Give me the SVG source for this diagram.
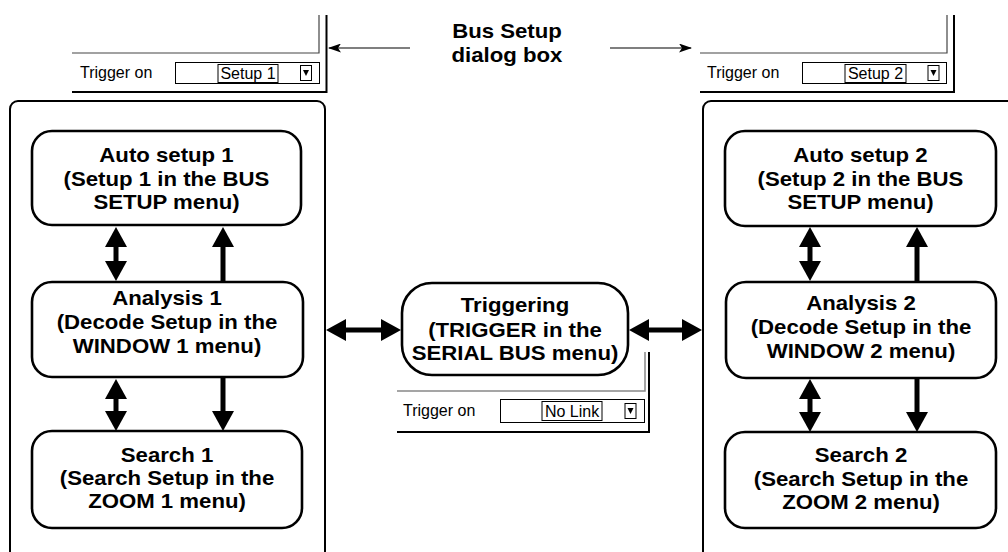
<svg xmlns="http://www.w3.org/2000/svg" width="1008" height="552" viewBox="0 0 1008 552">
<style>
.b{font-family:"Liberation Sans",Arial,sans-serif;font-weight:bold;font-size:20px;text-anchor:middle;fill:#000}
.r{font-family:"Liberation Sans",Arial,sans-serif;font-size:16px;fill:#000}
.rm{font-family:"Liberation Sans",Arial,sans-serif;font-size:16px;fill:#000;text-anchor:middle}
.node{fill:#fff;stroke:#000;stroke-width:2.6}
.frame{fill:none;stroke:#000;stroke-width:2}
.thick{stroke:#000;stroke-width:5;fill:none;marker-end:url(#ah)}
.dbl{stroke:#000;stroke-width:5;fill:none;marker-end:url(#ah);marker-start:url(#ah)}
.thin{stroke:#000;stroke-width:1.2;fill:none;marker-end:url(#sh)}
.dlg{fill:none;stroke:#000;stroke-width:2}
.dlgthin{fill:none;stroke:#444;stroke-width:1.2}
.gray{fill:none;stroke:#888;stroke-width:1.5}
.box{fill:#fff;stroke:#000;stroke-width:1}
</style>
<defs>
<marker id="ah" viewBox="0 -11 20 22" refX="0" refY="0" markerWidth="20" markerHeight="22" markerUnits="userSpaceOnUse" orient="auto-start-reverse">
<path d="M0,-11 L20,0 L0,11 z" fill="#000"/>
</marker>
<marker id="sh" viewBox="0 -4.5 13 9" refX="12" refY="0" markerWidth="13" markerHeight="9" markerUnits="userSpaceOnUse" orient="auto">
<path d="M0,-4.5 L13,0 L0,4.5 L3,0 z" fill="#000"/>
</marker>
</defs>

<!-- panels -->
<rect id="panel-left" class="frame" x="10" y="101" width="315" height="500" rx="8"/>
<rect id="panel-right" class="frame" x="703" y="101" width="315" height="500" rx="8"/>

<!-- top left dialog -->
<g id="dialog-setup1">
<polyline class="dlgthin" points="319,15 319,53 72,53"/>
<polyline class="dlg" points="326.5,15 326.5,92 72,92"/>
<text class="r" x="80" y="78">Trigger on</text>
<rect class="box" x="175.5" y="62.5" width="144" height="21"/>
<rect class="box" x="218" y="64.5" width="60" height="18"/>
<text class="rm" x="248" y="79">Setup 1</text>
<rect class="box" x="300.5" y="65.5" width="11" height="15"/>
<path d="M303,70 L309,70 L306,76 z" fill="#000"/>
</g>

<!-- top right dialog -->
<g id="dialog-setup2">
<polyline class="dlgthin" points="947,15 947,53 700,53"/>
<polyline class="dlg" points="954,15 954,92 700,92"/>
<text class="r" x="707" y="78">Trigger on</text>
<rect class="box" x="802.5" y="62.5" width="144" height="21"/>
<rect class="box" x="845" y="64.5" width="61" height="18"/>
<text class="rm" x="875.5" y="79">Setup 2</text>
<rect class="box" x="928" y="65.5" width="11" height="15"/>
<path d="M930.5,70 L936.5,70 L933.5,76 z" fill="#000"/>
</g>

<!-- middle dialog -->
<g id="dialog-trigger">
<polyline class="gray" points="645,352 645,391 397,391"/>
<polyline class="dlg" points="649,352 649,432 397,432"/>
<text class="r" x="403" y="416">Trigger on</text>
<rect class="box" x="500.5" y="399.5" width="144" height="23"/>
<rect class="box" x="542" y="401.5" width="60" height="19"/>
<text class="rm" x="572" y="417">No Link</text>
<rect class="box" x="625" y="403.5" width="11" height="15"/>
<path d="M627.5,408 L633.5,408 L630.5,414 z" fill="#000"/>
</g>

<!-- title -->
<g id="title">
<text class="b" transform="translate(507,0) scale(1.11,1)"><tspan x="0" y="38">Bus Setup</tspan><tspan x="0" y="62">dialog box</tspan></text>
</g>

<!-- nodes -->
<g id="auto1">
<rect class="node" x="32" y="131" width="269" height="94" rx="20"/>
<text class="b" transform="translate(166.5,0) scale(1.11,1)"><tspan x="0" y="162">Auto setup 1</tspan><tspan x="0" y="186">(Setup 1 in the BUS</tspan><tspan x="0" y="209">SETUP menu)</tspan></text>
</g>
<g id="analysis1">
<rect class="node" x="32" y="282" width="271" height="95" rx="20"/>
<text class="b" transform="translate(167,0) scale(1.11,1)"><tspan x="0" y="305">Analysis 1</tspan><tspan x="0" y="329">(Decode Setup in the</tspan><tspan x="0" y="353">WINDOW 1 menu)</tspan></text>
</g>
<g id="search1">
<rect class="node" x="32" y="431" width="270" height="97" rx="20"/>
<text class="b" transform="translate(167,0) scale(1.11,1)"><tspan x="0" y="462">Search 1</tspan><tspan x="0" y="485">(Search Setup in the</tspan><tspan x="0" y="508">ZOOM 1 menu)</tspan></text>
</g>
<g id="trigger">
<rect class="node" x="402" y="283" width="226" height="92" rx="30"/>
<text class="b" transform="translate(515,0) scale(1.11,1)"><tspan x="0" y="312">Triggering</tspan><tspan x="0" y="337">(TRIGGER in the</tspan><tspan x="0" y="360">SERIAL BUS menu)</tspan></text>
</g>
<g id="auto2">
<rect class="node" x="725" y="131" width="271" height="95" rx="20"/>
<text class="b" transform="translate(860.5,0) scale(1.11,1)"><tspan x="0" y="162">Auto setup 2</tspan><tspan x="0" y="186">(Setup 2 in the BUS</tspan><tspan x="0" y="209">SETUP menu)</tspan></text>
</g>
<g id="analysis2">
<rect class="node" x="726" y="282" width="270" height="96" rx="20"/>
<text class="b" transform="translate(861,0) scale(1.11,1)"><tspan x="0" y="310">Analysis 2</tspan><tspan x="0" y="334">(Decode Setup in the</tspan><tspan x="0" y="358">WINDOW 2 menu)</tspan></text>
</g>
<g id="search2">
<rect class="node" x="725" y="432" width="271" height="96" rx="20"/>
<text class="b" transform="translate(861,0) scale(1.11,1)"><tspan x="0" y="462">Search 2</tspan><tspan x="0" y="486">(Search Setup in the</tspan><tspan x="0" y="509">ZOOM 2 menu)</tspan></text>
</g>

<!-- connectors -->
<g id="connectors">
<line class="thin" x1="410" y1="48" x2="329" y2="48"/>
<line class="thin" x1="610" y1="48" x2="691" y2="48"/>
<line class="dbl" x1="116" y1="247" x2="116" y2="261"/>
<line class="thick" x1="223" y1="282" x2="223" y2="247"/>
<line class="dbl" x1="116" y1="399" x2="116" y2="411"/>
<line class="thick" x1="223" y1="377" x2="223" y2="411"/>
<line class="dbl" x1="810" y1="247" x2="810" y2="261"/>
<line class="thick" x1="917" y1="282" x2="917" y2="247"/>
<line class="dbl" x1="810" y1="399" x2="810" y2="412"/>
<line class="thick" x1="917" y1="378" x2="917" y2="412"/>
<line class="dbl" x1="346" y1="330" x2="381" y2="330"/>
<line class="dbl" x1="649" y1="330" x2="682" y2="330"/>
</g>
</svg>
